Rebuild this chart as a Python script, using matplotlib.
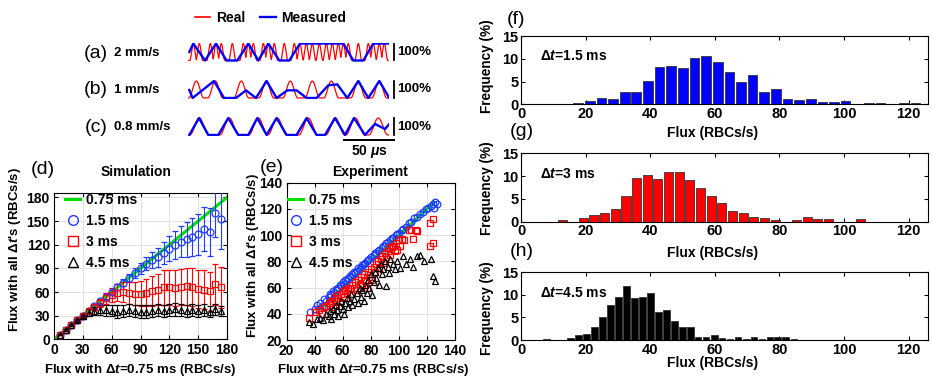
import numpy as np
import matplotlib
matplotlib.use('Agg')
import matplotlib.pyplot as plt
from matplotlib.lines import Line2D

plt.rcParams['font.family'] = ['Liberation Sans', 'DejaVu Sans']
plt.rcParams['font.weight'] = 'bold'
plt.rcParams['mathtext.fontset'] = 'custom'
plt.rcParams['mathtext.rm'] = 'Liberation Sans'
plt.rcParams['mathtext.it'] = 'Liberation Sans:italic:bold'
plt.rcParams['mathtext.bf'] = 'Liberation Sans:bold'
plt.rcParams['axes.linewidth'] = 0.8

# ---------------- data ----------------
# (a)-(c): waveforms, time in microseconds
speed_labels = ['2 mm/s', '1 mm/s', '0.8 mm/s']
row_letters = ['(a)', '(b)', '(c)']
real_pulses_a = [5, 11, 22, 27.7, 33, 44, 55, 60, 65, 75, 80, 86, 96, 106, 111.7, 118,
                 124, 131, 138, 144, 150, 155, 160, 170, 180, 185, 191, 196]
real_pulses_b = [8, 27, 53, 78, 102, 124, 143, 170, 191]
real_pulses_c = [11, 41, 70, 89, 120, 147, 167, 190]
pulse_width = [7, 15, 19]
meas_t_a = [1, 5, 16.7, 27.7, 38.3, 49, 60, 70, 80, 91, 101, 111.7, 155, 165, 175, 185, 201]
meas_v_a = [0.5, 1, 0, 1, 0, 0, 1, 0, 1, 0, 0, 1, 1, 0, 0, 1, 1]
meas_t_b = [1, 4.3, 25.7, 35.7, 47.7, 57.7, 67.7, 78.3, 88.3, 99, 108.3, 118.3, 128.3,
            140, 149, 159, 170, 180, 191, 201]
meas_v_b = [0.47, 0, 1, 0, 0, 0.45, 0, 1, 0, 0.45, 0.45, 0, 0, 0.75, 0.8, 0, 1, 0, 1, 0]
meas_t_c = [1, 10.7, 20, 30, 40, 50, 60, 69, 78.3, 88.3, 98.3, 108.3, 118.3, 128.3,
            136.7, 146.7, 156.7, 165.7, 176.7, 186.7, 196.7, 201]
meas_v_c = [0, 1, 0, 0, 1, 0, 0, 1, 0, 1, 0, 0, 1, 0, 0, 1, 0, 1, 0, 0.65, 0.35, 0.65]
scale_bar_us = [156, 206]

# (d) simulation
legend_labels = ['0.75 ms', '1.5 ms', '3 ms', '4.5 ms']
ref_d = [0, 180]
x_sim = [6, 12, 18, 24, 30, 36, 42, 48, 54, 60, 66, 72, 78, 84, 90, 96, 102, 108, 114,
         120, 126, 132, 138, 144, 150, 156, 162, 168, 174]
y15 = [6, 12, 18, 24, 30, 36, 42, 48, 54, 60, 66, 72, 78, 84, 90, 96, 101, 104, 110,
       115, 120, 124, 127, 130, 133, 140, 136, 160, 152]
e15 = [1, 1, 1, 1, 1, 2, 2, 2, 3, 3, 4, 4, 5, 6, 7, 8, 10, 12, 14, 16, 18, 20, 22, 24,
       26, 28, 30, 30, 38]
y3 = [6, 12, 18, 24, 30, 36, 41, 46, 52, 56, 59, 60, 59, 58, 58, 59, 61, 63, 66, 66,
      65, 66, 67, 66, 64, 63, 61, 70, 66]
e3 = [1, 1, 1, 2, 2, 3, 4, 5, 7, 9, 11, 13, 14, 15, 16, 17, 19, 20, 22, 22, 23, 23,
      24, 24, 24, 25, 25, 26, 26]
y45 = [6, 12, 18, 24, 30, 34, 36, 37, 37, 36, 35, 36, 37, 36, 35, 35, 36, 37, 36, 37,
       38, 37, 36, 37, 36, 37, 35, 38, 36]
e45 = [1, 1, 1, 2, 3, 4, 5, 6, 7, 7, 8, 8, 8, 8, 8, 8, 8, 8, 8, 8, 8, 8, 8, 8, 8, 8,
       7, 7, 6]

# (e) experiment
ref_e = [43, 125]
bx = [37, 40, 42, 44, 45, 47, 48, 50, 51, 52, 53, 54, 55, 56, 57, 58, 59, 60, 61, 62,
      63, 64, 65, 66, 67, 68, 69, 70, 71, 72, 73, 74, 75, 76, 77, 78, 79, 80, 82, 83,
      84, 85, 86, 88, 89, 90, 91, 92, 94, 95, 96, 98, 99, 100, 102, 103, 105, 107, 109,
      111, 113, 115, 117, 119, 121, 123, 124, 125, 126, 127]
by = [41.5, 44, 47, 48, 46, 51, 50, 53, 55, 54, 57, 56, 59, 58, 60, 62, 61, 64, 63, 66,
      65, 67, 69, 68, 70, 72, 71, 73, 75, 74, 76, 77, 78, 79, 80, 81, 82, 83, 85, 86,
      86, 88, 89, 90, 92, 92, 94, 95, 96, 98, 98, 100, 101, 102, 104, 105, 106, 109, 110,
      113, 114, 116, 118, 120, 121, 122, 124, 121, 125, 124]
rx = [36, 40, 43, 45, 47, 48, 50, 51, 52, 53, 54, 55, 56, 57, 58, 59, 60, 61, 62, 63,
      64, 65, 66, 67, 68, 69, 70, 71, 72, 73, 74, 75, 76, 77, 78, 79, 80, 81, 82, 83,
      84, 85, 86, 87, 88, 89, 90, 91, 92, 93, 94, 95, 96, 97, 98, 99, 100, 101, 102, 104,
      107, 109, 110, 112, 113, 122, 124, 122, 124]
ry = [37, 41, 43, 40, 45, 46, 48, 47, 50, 45, 52, 50, 54, 52, 49, 55, 57, 53, 58, 56,
      60, 59, 55, 62, 60, 64, 58, 66, 63, 68, 62, 70, 65, 60, 72, 68, 74, 66, 76, 72,
      78, 80, 75, 82, 84, 79, 86, 83, 88, 90, 85, 91, 92, 88, 94, 89, 96, 92, 97, 96,
      104, 104, 97, 104, 103, 109, 112, 92, 94]
kx = [36, 39, 42, 44, 46, 48, 50, 51, 52, 53, 54, 55, 56, 57, 58, 59, 60, 61, 62, 63,
      64, 65, 66, 67, 68, 70, 71, 72, 73, 74, 75, 76, 77, 78, 79, 80, 81, 82, 83, 84,
      85, 86, 87, 88, 89, 90, 91, 92, 93, 94, 96, 97, 99, 101, 103, 105, 108, 110, 113,
      115, 118, 123, 124, 126]
ky = [34, 32, 36, 37, 35, 40, 38, 42, 36, 44, 40, 47, 43, 38, 46, 50, 44, 40, 48, 52,
      45, 50, 55, 47, 51, 56, 48, 60, 53, 58, 50, 62, 56, 66, 60, 70, 54, 64, 72, 67,
      75, 62, 78, 70, 74, 80, 61, 76, 71, 82, 78, 74, 80, 75, 84, 78, 82, 76, 84, 85,
      80, 82, 69, 65]

# (f)-(h) histograms
hist_labels = ['$\\Delta t$=1.5 ms', '$\\Delta t$=3 ms', '$\\Delta t$=4.5 ms']
f_centers = [17.7, 21.3, 24.9, 28.5, 32.1, 35.7, 39.3, 42.9, 46.5, 50.1, 53.7, 57.3,
             60.9, 64.5, 68.1, 71.7, 75.3, 78.9, 82.5, 86.1, 89.7, 93.3, 96.9, 100.5,
             104.1, 107.7, 111.3, 114.9, 118.5, 122.1]
f_heights = [0.2, 0.7, 1.4, 1.2, 2.7, 2.7, 5.1, 8.1, 8.5, 7.9, 10.2, 10.6, 9.3, 7.2,
             5.0, 6.4, 2.7, 3.4, 1.1, 0.95, 1.25, 0.6, 0.6, 0.75, 0, 0.3, 0.3, 0, 0.3, 0.3]
g_centers = [12.7, 16.0, 19.3, 22.6, 25.9, 29.2, 32.5, 35.8, 39.1, 42.4, 45.7, 49.0,
             52.3, 55.6, 58.9, 62.2, 65.5, 68.8, 72.1, 75.4, 78.7, 82.0, 85.3, 88.6,
             91.9, 95.2, 98.5, 101.8, 105.1]
g_heights = [0.3, 0, 0.9, 1.4, 1.8, 2.7, 5.6, 9.6, 10.2, 9.3, 11.0, 11.0, 9.1, 7.3,
             5.6, 4.1, 2.4, 1.8, 1.0, 0.8, 0.4, 0, 0.4, 1.0, 0.7, 0.6, 0, 0, 0.6]
h_centers = [7.9, 10.4, 12.8, 15.3, 17.8, 20.3, 22.7, 25.2, 27.7, 30.1, 32.6, 35.1,
             37.5, 40.0, 42.5, 45.0, 47.4, 49.9, 52.4, 54.8, 57.3, 59.8, 62.2, 64.7,
             67.2, 69.7, 72.1, 74.6, 77.1, 79.5, 82.0, 84.5]
h_heights = [0.2, 0, 0, 0.5, 1.0, 1.4, 2.9, 5.0, 7.8, 9.6, 12.0, 9.4, 9.6, 10.5, 6.2,
             6.7, 4.1, 2.8, 2.8, 0.7, 0.6, 1.0, 0.5, 0.3, 0.7, 0.3, 0.6, 0.3, 0.7, 0.6,
             0.6, 0.3]

# ---------------- layout helpers ----------------
W, H = 932, 379
fig = plt.figure(figsize=(W / 100, H / 100), dpi=100)


def fx(p):
    return p / W


def fy(p):
    return 1 - p / H


def box(l, t, r, b):
    return [fx(l), fy(b), fx(r) - fx(l), fy(t) - fy(b)]


RED = '#ff0000'
BLUE = '#0000ff'
MBLUE = '#1f3cff'
GREEN = '#00e000'

# ---------------- (a)-(c) ----------------
pulses = [real_pulses_a, real_pulses_b, real_pulses_c]
meas_t = [meas_t_a, meas_t_b, meas_t_c]
meas_v = [meas_v_a, meas_v_b, meas_v_c]
row_tops = [42.5, 80.0, 117.0]
row_cy = [53.3, 90.0, 127.3]
tt = np.linspace(0, 201, 4000)
wave_axes = []
for i in range(3):
    ax = fig.add_axes(box(188.3, row_tops[i], 389.3, row_tops[i] + 19))
    ax.set_xlim(0, 201)
    ax.set_ylim(-0.06, 1.06)
    ax.axis('off')
    real = np.zeros_like(tt)
    w = pulse_width[i]
    for p in pulses[i]:
        d = np.abs(tt - p)
        real = np.maximum(real, np.where(d < w / 2, 0.5 * (1 + np.cos(2 * np.pi * d / w)), 0))
    ax.plot(tt, real, color=RED, lw=0.9)
    ax.plot(meas_t[i], meas_v[i], color=BLUE, lw=1.7)
    ax.plot([206, 206], [0, 1], color='k', lw=1.3, clip_on=False)
    ax.text(209, 0.5, '100%', fontsize=9.5, va='center', ha='left')
    fig.text(fx(96), fy(row_cy[i]), row_letters[i], fontsize=14, weight='normal',
             ha='center', va='center')
    fig.text(fx(114), fy(row_cy[i]), speed_labels[i], fontsize=9.5, ha='left', va='center')
    wave_axes.append(ax)

axc = wave_axes[2]
axc.plot(scale_bar_us, [-0.3, -0.3], color='k', lw=1.4, clip_on=False)
axc.text(np.mean(scale_bar_us), -1.0, '50 $\\mu$s', fontsize=10, ha='center', va='center')

fig.legend([Line2D([], [], color=RED, lw=1.2), Line2D([], [], color=BLUE, lw=1.7)],
           ['Real', 'Measured'], loc='center', bbox_to_anchor=(fx(270.5), fy(18)),
           ncol=2, frameon=False, fontsize=10, handlelength=1.1, handletextpad=0.4,
           columnspacing=1.1, borderpad=0)

# ---------------- (d) ----------------
axd = fig.add_axes(box(54, 192.7, 227, 339.3))
axd.plot(ref_d, ref_d, color=GREEN, lw=2.2, zorder=2)
common_eb = dict(mfc='none', capsize=2.2, elinewidth=0.8, capthick=0.8, mew=0.9, ms=5,
                 ls='none', zorder=3)
axd.errorbar(x_sim, y15, yerr=e15, fmt='o', color=MBLUE, **common_eb)
axd.errorbar(x_sim, y3, yerr=e3, fmt='s', color=RED, **common_eb)
axd.errorbar(x_sim, y45, yerr=e45, fmt='^', color='k', **common_eb)
axd.set_xlim(0, 180)
axd.set_ylim(0, 186)
axd.set_xticks(range(0, 181, 30))
axd.set_yticks(range(0, 181, 30))

# ---------------- (e) ----------------
axe = fig.add_axes(box(286.5, 182.7, 455, 340))
axe.plot(ref_e, ref_e, color=GREEN, lw=2.2, zorder=2)
common_sc = dict(mfc='none', mew=0.9, ms=4.8, ls='none', zorder=3)
axe.plot(bx, by, 'o', color=MBLUE, **common_sc)
axe.plot(rx, ry, 's', color=RED, **common_sc)
axe.plot(kx, ky, '^', color='k', **common_sc)
axe.set_xlim(20, 140)
axe.set_ylim(20, 140)
axe.set_xticks(range(20, 141, 20))
axe.set_yticks(range(20, 141, 20))

handles = [Line2D([], [], color=GREEN, lw=2.2),
           Line2D([], [], marker='o', color=MBLUE, mfc='none', ls='none', ms=7, mew=1),
           Line2D([], [], marker='s', color=RED, mfc='none', ls='none', ms=7, mew=1),
           Line2D([], [], marker='^', color='k', mfc='none', ls='none', ms=7, mew=1)]
for ax, anchor in [(axd, (0.064, 1.0)), (axe, (0.009, 0.935))]:
    ax.grid(True, color='#dcdcdc', lw=0.6)
    ax.set_axisbelow(True)
    ax.tick_params(direction='in', top=True, right=True, length=3, labelsize=10, pad=3)
    ax.legend(handles, legend_labels, loc='upper left', bbox_to_anchor=anchor,
              frameon=False, fontsize=10, handlelength=1.1, handletextpad=0.4,
              labelspacing=0.5, borderpad=0, borderaxespad=0)

fig.text(fx(43.3), fy(170), '(d)', fontsize=14, weight='normal', ha='center', va='center')
fig.text(fx(136), fy(172), 'Simulation', fontsize=10, ha='center', va='center')
fig.text(fx(271.7), fy(167.5), '(e)', fontsize=14, weight='normal', ha='center', va='center')
fig.text(fx(370), fy(171.7), 'Experiment', fontsize=10, ha='center', va='center')
fig.text(fx(140), fy(370), 'Flux with $\\Delta t$=0.75 ms (RBCs/s)', fontsize=9.5,
         ha='center', va='center')
fig.text(fx(373), fy(370), 'Flux with $\\Delta t$=0.75 ms (RBCs/s)', fontsize=9.5,
         ha='center', va='center')
fig.text(fx(15), fy(250), "Flux with all $\\Delta t$'s (RBCs/s)", fontsize=9.5,
         rotation=90, ha='center', va='center')
fig.text(fx(253), fy(256), "Flux with all $\\Delta t$'s (RBCs/s)", fontsize=9.5,
         rotation=90, ha='center', va='center')

# ---------------- (f)-(h) ----------------
hist_sets = [(f_centers, f_heights, 3.0, BLUE, 36, 104.3, '(f)', (516.5, 20), 133, 66),
             (g_centers, g_heights, 2.8, RED, 153.3, 221.7, '(g)', (521.7, 132), 253.3, 188),
             (h_centers, h_heights, 2.1, 'k', 272.3, 340, '(h)', (521.7, 251), 363.3, 308)]
for k, (cen, hei, bw, col, top, bot, letter, lpos, xl_y, yl_y) in enumerate(hist_sets):
    ax = fig.add_axes(box(521, top, 928, bot))
    ax.bar(cen, hei, width=bw, color=col, edgecolor='#333333', linewidth=0.6, zorder=2)
    ax.set_xlim(0, 126)
    ax.set_ylim(0, 15)
    ax.set_xticks(range(0, 121, 20))
    ax.set_yticks([0, 5, 10, 15])
    ax.tick_params(direction='in', top=True, right=True, length=3, labelsize=10.5, pad=2)
    ax.text(6, 10.5, hist_labels[k], fontsize=10, ha='left', va='center')
    fig.text(fx(lpos[0]), fy(lpos[1]), letter, fontsize=14, weight='normal',
             ha='center', va='center')
    fig.text(fx(713), fy(xl_y), 'Flux (RBCs/s)', fontsize=10, ha='center', va='center')
    fig.text(fx(487.5), fy(yl_y), 'Frequency (%)', fontsize=9.8, rotation=90,
             ha='center', va='center')

fig.savefig('out.png', dpi=100)
